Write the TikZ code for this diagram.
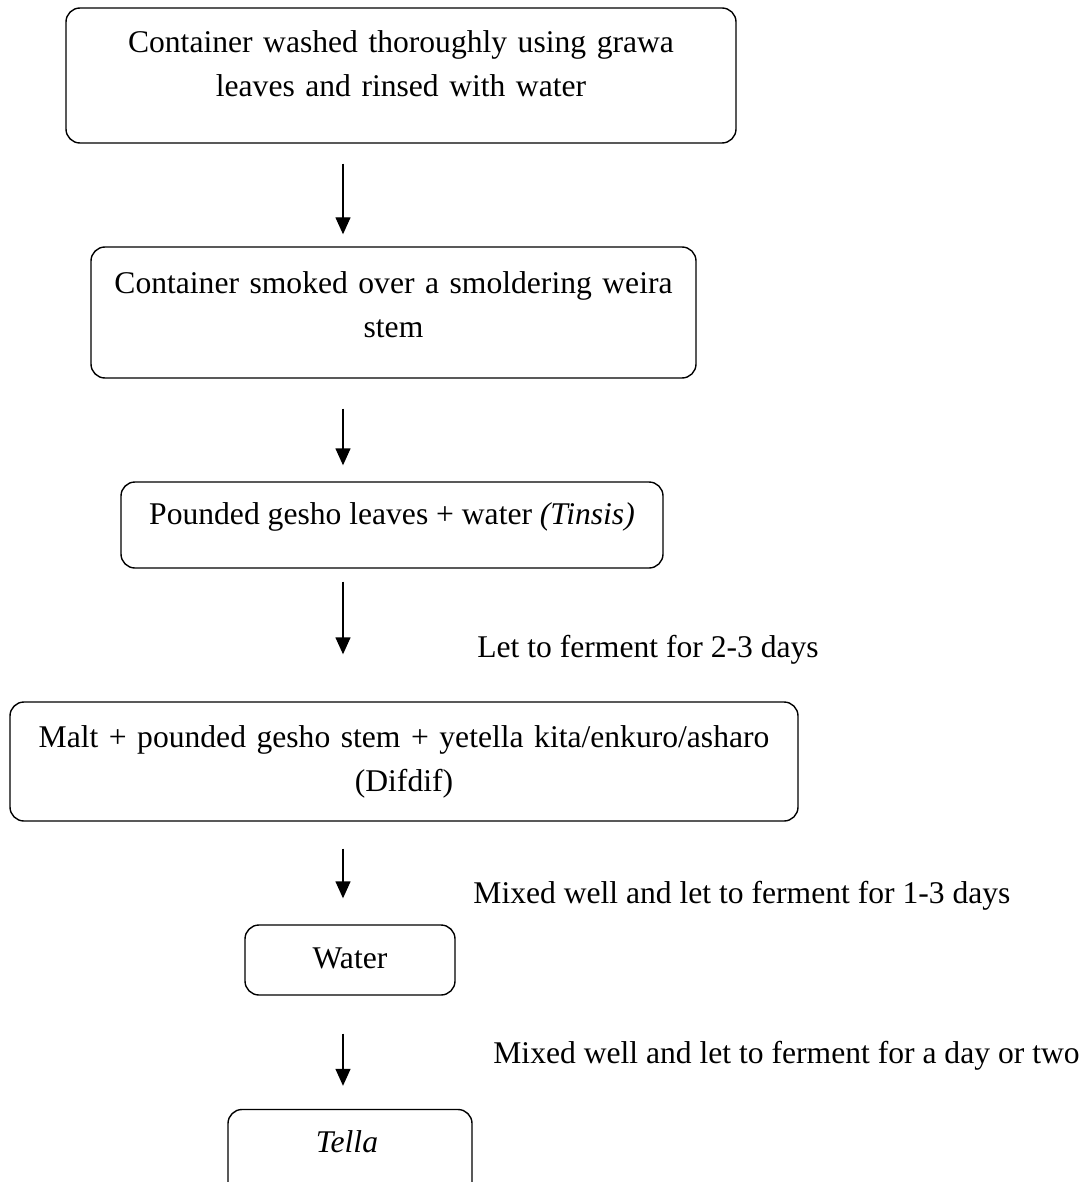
\documentclass[tikz,border=0pt]{standalone}
\usepackage{fontspec}
\setmainfont{Liberation Serif}
\usetikzlibrary{arrows.meta}
\begin{document}
\begin{tikzpicture}[x=0.5pt,y=-0.5pt,
  box/.style={draw, line width=0.7pt, rounded corners=7pt, inner sep=0pt},
  txt/.style={font=\fontsize{15.8}{22}\selectfont, align=center, inner sep=0pt, anchor=base},
  lbl/.style={font=\fontsize{15.8}{22}\selectfont, inner sep=0pt, anchor=base west},
  arr/.style={-{Triangle[length=8.5pt,width=7.5pt]}, line width=0.7pt}]
\useasboundingbox (0,0) rectangle (1091,1182);
\clip (0,0) rectangle (1091,1182);
% boxes
\node[box, minimum width=335pt, minimum height=67.5pt] (b1) at (401,75.5) {};
\node[box, minimum width=302.5pt, minimum height=65.5pt] (b2) at (393.5,312.5) {};
\node[box, minimum width=271pt, minimum height=43pt] (b3) at (392,525) {};
\node[box, minimum width=394pt, minimum height=59.5pt] (b4) at (404,761.5) {};
\node[box, minimum width=105pt, minimum height=35pt] (b5) at (350,960) {};
\node[box, minimum width=122pt, minimum height=45.5pt] (b6) at (350,1155) {};
% texts
\node[txt, text width=335pt] (t1) at (401,53) {Container washed thoroughly using grawa\\leaves and rinsed with water};
\node[txt, text width=302pt] (t2) at (393.5,293) {Container smoked over a smoldering weira\\stem};
\node[txt] (t3) at (392,524) {Pounded gesho leaves + water \textit{(Tinsis)}};
\node[txt, text width=394pt] (t4) at (404,747) {Malt + pounded gesho stem + yetella kita/enkuro/asharo\\(Difdif)};
\node[txt] (t5) at (350,968) {Water};
\node[txt] (t6) at (347,1152) {\textit{Tella}};
% labels
\node[lbl] (l1) at (477,657) {Let to ferment for 2-3 days};
\node[lbl] (l2) at (473,903) {Mixed well and let to ferment for 1-3 days};
\node[lbl] (l3) at (493,1063) {Mixed well and let to ferment for a day or two};
% arrows
\coordinate (ax) at (343,0);
\draw[arr, shorten <=10pt, shorten >=6pt] (b1.south -| ax) -- (b2.north -| ax);
\draw[arr, shorten <=15pt, shorten >=8pt] (b2.south -| ax) -- (b3.north -| ax);
\draw[arr, shorten <=6.5pt, shorten >=23.5pt] (b3.south -| ax) -- (b4.north -| ax);
\draw[arr, shorten <=13.5pt, shorten >=13pt] (b4.south -| ax) -- (b5.north -| ax);
\draw[arr, shorten <=19pt, shorten >=11.5pt] (b5.south -| ax) -- (b6.north -| ax);
\end{tikzpicture}
\end{document}
